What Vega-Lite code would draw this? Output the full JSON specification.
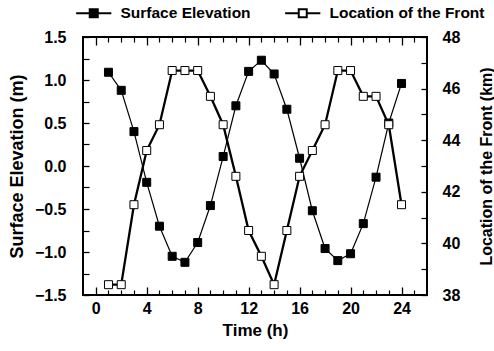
{
  "$schema": "https://vega.github.io/schema/vega-lite/v6.json",
  "autosize": {"type": "none"},
  "padding": {"left": 83, "top": 37, "right": 67, "bottom": 56},
  "width": 344,
  "height": 258,
  "config": {
    "view": {"stroke": "black", "strokeWidth": 2},
    "font": "Liberation Sans",
    "axis": {
      "domain": false,
      "grid": false,
      "labelFont": "Liberation Sans",
      "labelFontWeight": "bold",
      "labelFontSize": 16,
      "labelColor": "black",
      "titleFont": "Liberation Sans",
      "titleFontWeight": "bold",
      "titleColor": "black"
    }
  },
  "data": {
    "values": [
      {"t": 1, "series": "Surface Elevation", "v": 1.09},
      {"t": 2, "series": "Surface Elevation", "v": 0.88},
      {"t": 3, "series": "Surface Elevation", "v": 0.40},
      {"t": 4, "series": "Surface Elevation", "v": -0.19},
      {"t": 5, "series": "Surface Elevation", "v": -0.70},
      {"t": 6, "series": "Surface Elevation", "v": -1.05},
      {"t": 7, "series": "Surface Elevation", "v": -1.12},
      {"t": 8, "series": "Surface Elevation", "v": -0.89},
      {"t": 9, "series": "Surface Elevation", "v": -0.46},
      {"t": 10, "series": "Surface Elevation", "v": 0.11},
      {"t": 11, "series": "Surface Elevation", "v": 0.70},
      {"t": 12, "series": "Surface Elevation", "v": 1.10},
      {"t": 13, "series": "Surface Elevation", "v": 1.23},
      {"t": 14, "series": "Surface Elevation", "v": 1.07},
      {"t": 15, "series": "Surface Elevation", "v": 0.66},
      {"t": 16, "series": "Surface Elevation", "v": 0.09},
      {"t": 17, "series": "Surface Elevation", "v": -0.52},
      {"t": 18, "series": "Surface Elevation", "v": -0.96},
      {"t": 19, "series": "Surface Elevation", "v": -1.10},
      {"t": 20, "series": "Surface Elevation", "v": -1.02},
      {"t": 21, "series": "Surface Elevation", "v": -0.67},
      {"t": 22, "series": "Surface Elevation", "v": -0.13},
      {"t": 23, "series": "Surface Elevation", "v": 0.50},
      {"t": 24, "series": "Surface Elevation", "v": 0.96},
      {"t": 1, "series": "Location of the Front", "v": 38.4},
      {"t": 2, "series": "Location of the Front", "v": 38.4},
      {"t": 3, "series": "Location of the Front", "v": 41.5},
      {"t": 4, "series": "Location of the Front", "v": 43.6},
      {"t": 5, "series": "Location of the Front", "v": 44.6},
      {"t": 6, "series": "Location of the Front", "v": 46.7},
      {"t": 7, "series": "Location of the Front", "v": 46.7},
      {"t": 8, "series": "Location of the Front", "v": 46.7},
      {"t": 9, "series": "Location of the Front", "v": 45.7},
      {"t": 10, "series": "Location of the Front", "v": 44.6},
      {"t": 11, "series": "Location of the Front", "v": 42.6},
      {"t": 12, "series": "Location of the Front", "v": 40.5},
      {"t": 13, "series": "Location of the Front", "v": 39.5},
      {"t": 14, "series": "Location of the Front", "v": 38.4},
      {"t": 15, "series": "Location of the Front", "v": 40.5},
      {"t": 16, "series": "Location of the Front", "v": 42.6},
      {"t": 17, "series": "Location of the Front", "v": 43.6},
      {"t": 18, "series": "Location of the Front", "v": 44.6},
      {"t": 19, "series": "Location of the Front", "v": 46.7},
      {"t": 20, "series": "Location of the Front", "v": 46.7},
      {"t": 21, "series": "Location of the Front", "v": 45.7},
      {"t": 22, "series": "Location of the Front", "v": 45.7},
      {"t": 23, "series": "Location of the Front", "v": 44.6},
      {"t": 24, "series": "Location of the Front", "v": 41.5}
    ]
  },
  "layer": [
    {
      "transform": [{"filter": "datum.series === 'Surface Elevation'"}],
      "mark": {"type": "line", "color": "black", "strokeWidth": 1.2},
      "encoding": {
        "x": {
          "field": "t", "type": "quantitative",
          "scale": {"domain": [-1, 26], "nice": false, "zero": false},
          "axis": {
            "orient": "bottom",
            "values": [0,4,8,12,16,20,24],
            "tickColor": "black", "tickSize": -8, "tickWidth": 1.3,
            "labelPadding": 13,
            "title": "Time (h)",
            "titleFontSize": 17,
            "titleX": 172, "titleY": 35,
            "titleBaseline": "middle", "titleAlign": "center"
          }
        },
        "y": {
          "field": "v", "type": "quantitative",
          "scale": {"domain": [-1.5, 1.5], "nice": false, "zero": false},
          "axis": {
            "orient": "left",
            "values": [-1.5,-1,-0.5,0,0.5,1,1.5],
            "format": ".1f",
            "tickColor": "black", "tickSize": -6, "tickWidth": 1.3,
            "labelPadding": 23,
            "title": "Surface Elevation (m)",
            "titleFontSize": 18,
            "titleAngle": 270,
            "titleX": -66, "titleY": 129,
            "titleBaseline": "middle", "titleAlign": "center"
          }
        }
      }
    },
    {
      "transform": [{"filter": "datum.series === 'Location of the Front'"}],
      "mark": {"type": "line", "color": "black", "strokeWidth": 2.3},
      "encoding": {
        "x": {
          "field": "t", "type": "quantitative",
          "scale": {"domain": [-1, 26], "nice": false, "zero": false},
          "axis": {
            "orient": "top",
            "values": [0,4,8,12,16,20,24],
            "tickColor": "black", "tickSize": -8, "tickWidth": 1.3,
            "labels": false,
            "title": null
          }
        },
        "y": {
          "field": "v", "type": "quantitative",
          "scale": {"domain": [38, 48], "nice": false, "zero": false},
          "axis": {
            "orient": "right",
            "values": [38,40,42,44,46,48],
            "tickColor": "black", "tickSize": -6, "tickWidth": 1.3,
            "labelPadding": 21,
            "title": "Location of the Front (km)",
            "titleFontSize": 16,
            "titleAngle": 270,
            "titleX": 59, "titleY": 129,
            "titleBaseline": "middle", "titleAlign": "center"
          }
        }
      }
    },
    {
      "transform": [{"filter": "datum.series === 'Surface Elevation'"}],
      "mark": {"type": "point", "shape": "square", "size": 64, "filled": true, "stroke": "black", "strokeWidth": 1, "opacity": 1},
      "encoding": {
        "x": {
          "field": "t", "type": "quantitative",
          "scale": {"domain": [-1, 26], "nice": false, "zero": false},
          "axis": {
            "orient": "bottom",
            "values": [1,2,3,5,6,7,9,10,11,13,14,15,17,18,19,21,22,23,25],
            "tickColor": "black", "tickSize": -5, "tickWidth": 1.2,
            "labels": false,
            "title": null
          }
        },
        "y": {
          "field": "v", "type": "quantitative",
          "scale": {"domain": [-1.5, 1.5], "nice": false, "zero": false},
          "axis": {
            "orient": "left",
            "values": [-1.25,-0.75,-0.25,0.25,0.75,1.25],
            "tickColor": "black", "tickSize": -6, "tickWidth": 1.2,
            "labels": false,
            "title": null
          }
        },
        "fill": {
          "field": "series", "type": "nominal",
          "scale": {"domain": ["Surface Elevation", "Location of the Front"], "range": ["black", "white"]},
          "legend": {
            "title": null,
            "orient": "none",
            "direction": "horizontal",
            "legendX": 3,
            "legendY": -32,
            "padding": 0,
            "symbolType": "M-4.4,0H-1M1,0H4.4M-1,-1H1V1H-1Z",
            "symbolSize": 64,
            "symbolStrokeColor": "black",
            "symbolStrokeWidth": 2,
            "symbolOpacity": 1,
            "labelFont": "Liberation Sans",
            "labelFontWeight": "bold",
            "labelFontSize": 15.5,
            "labelColor": "black",
            "labelOffset": 19,
            "columnPadding": 30
          }
        }
      }
    },
    {
      "transform": [{"filter": "datum.series === 'Location of the Front'"}],
      "mark": {"type": "point", "shape": "square", "size": 64, "filled": true, "stroke": "black", "strokeWidth": 1, "opacity": 1},
      "encoding": {
        "x": {
          "field": "t", "type": "quantitative",
          "scale": {"domain": [-1, 26], "nice": false, "zero": false},
          "axis": {
            "orient": "top",
            "values": [1,2,3,5,6,7,9,10,11,13,14,15,17,18,19,21,22,23,25],
            "tickColor": "black", "tickSize": -5, "tickWidth": 1.2,
            "labels": false,
            "title": null
          }
        },
        "y": {
          "field": "v", "type": "quantitative",
          "scale": {"domain": [38, 48], "nice": false, "zero": false},
          "axis": {
            "orient": "right",
            "values": [39,41,43,45,47],
            "tickColor": "black", "tickSize": -6, "tickWidth": 1.2,
            "labels": false,
            "title": null
          }
        },
        "fill": {
          "field": "series", "type": "nominal",
          "scale": {"domain": ["Surface Elevation", "Location of the Front"], "range": ["black", "white"]}
        }
      }
    }
  ],
  "resolve": {"scale": {"y": "independent"}, "axis": {"x": "independent", "y": "independent"}}
}
